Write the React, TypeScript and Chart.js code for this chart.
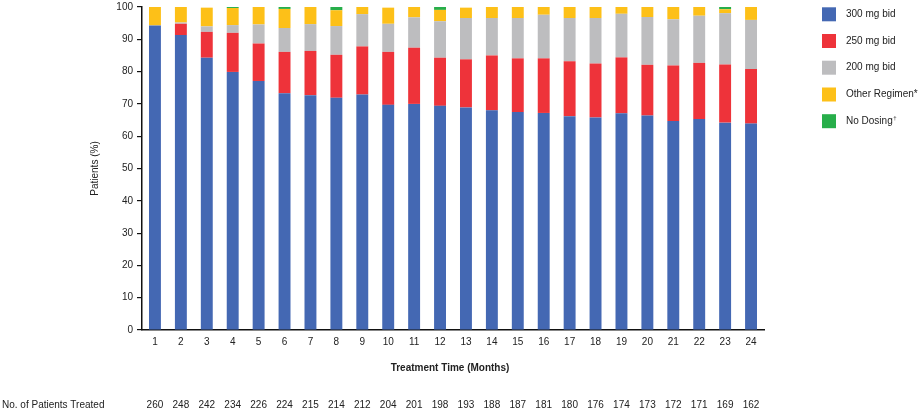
import React, { useEffect, useRef } from 'react';
import { Chart, registerables } from 'chart.js';

Chart.register(...registerables);

const months = ['1', '2', '3', '4', '5', '6', '7', '8', '9', '10', '11', '12', '13', '14', '15', '16', '17', '18', '19', '20', '21', '22', '23', '24'];
const patientsTreated = [260, 248, 242, 234, 226, 224, 215, 214, 212, 204, 201, 198, 193, 188, 187, 181, 180, 176, 174, 173, 172, 171, 169, 162];

const dose300 = [94.3, 91.3, 84.3, 79.9, 77.1, 73.3, 72.7, 71.9, 72.9, 69.7, 70.0, 69.4, 68.9, 68.0, 67.5, 67.2, 66.2, 65.8, 67.1, 66.4, 64.7, 65.3, 64.2, 63.9];
const dose250 = [0, 3.5, 8.0, 12.1, 11.6, 12.8, 13.7, 13.3, 14.9, 16.4, 17.4, 14.9, 14.9, 17.0, 16.6, 16.9, 17.0, 16.7, 17.3, 15.7, 17.2, 17.4, 18.0, 16.9];
const dose200 = [0, 0.4, 1.7, 2.4, 5.9, 7.4, 8.3, 8.9, 10.0, 8.7, 9.4, 11.3, 12.8, 11.6, 12.5, 13.5, 13.4, 14.1, 13.5, 14.8, 14.3, 14.6, 15.9, 15.2];
const otherRegimen = [5.7, 4.8, 5.8, 5.3, 5.4, 5.9, 5.3, 4.9, 2.2, 5.0, 3.2, 3.5, 3.2, 3.4, 3.4, 2.4, 3.4, 3.4, 2.1, 3.1, 3.8, 2.7, 1.2, 4.0];
const noDosing = [0, 0, 0, 0.3, 0, 0.6, 0, 1.0, 0, 0, 0, 0.9, 0, 0, 0, 0, 0, 0, 0, 0, 0, 0, 0.7, 0];

const seriesLabels = ['300 mg bid', '250 mg bid', '200 mg bid', 'Other Regimen*', 'No Dosing†'];
const seriesColors = ['#4468B3', '#EE333A', '#BDBDBF', '#FDC018', '#27AE4A'];
const yTicks = [0, 10, 20, 30, 40, 50, 60, 70, 80, 90, 100];

const yTitle = 'Patients (%)';
const xTitle = 'Treatment Time (Months)';
const rowTitle = 'No. of Patients Treated';

const FONT = '"Liberation Sans", Arial, sans-serif';
const TEXT = '#222';

const overlayPlugin = {
  id: 'overlay',
  afterDraw(chart: any) {
    const { ctx, chartArea, scales } = chart;
    const xs = scales.x;

    // Y title
    ctx.save();
    ctx.fillStyle = TEXT;
    ctx.font = `10px ${FONT}`;
    ctx.translate(95, (chartArea.top + chartArea.bottom) / 2);
    ctx.rotate(-Math.PI / 2);
    ctx.textAlign = 'center';
    ctx.textBaseline = 'middle';
    ctx.fillText(yTitle, 0, 0);
    ctx.restore();

    // X title
    ctx.save();
    ctx.fillStyle = TEXT;
    ctx.font = `bold 10px ${FONT}`;
    ctx.textAlign = 'center';
    ctx.textBaseline = 'middle';
    ctx.fillText(xTitle, 450, 368);

    // Patients row
    ctx.font = `10px ${FONT}`;
    ctx.textAlign = 'left';
    ctx.fillText(rowTitle, 2, 405);
    ctx.textAlign = 'center';
    patientsTreated.forEach((n, i) => {
      ctx.fillText(String(n), xs.getPixelForValue(i), 405);
    });

    // Legend
    const rowY = [14.3, 41, 67.7, 94.5, 121.2];
    chart.data.datasets.forEach((ds: any, i: number) => {
      const cy = rowY[i];
      ctx.fillStyle = ds.backgroundColor;
      ctx.fillRect(822, cy - 7, 14, 14);
      ctx.fillStyle = TEXT;
      ctx.font = `10px ${FONT}`;
      ctx.textAlign = 'left';
      ctx.textBaseline = 'middle';
      const label: string = ds.label;
      if (label.endsWith('†')) {
        const base = label.slice(0, -1);
        ctx.fillText(base, 846, cy);
        const w = ctx.measureText(base).width;
        ctx.font = `6px ${FONT}`;
        ctx.fillText('†', 846 + w + 0.5, cy - 3);
      } else {
        ctx.fillText(label, 846, cy);
      }
    });
    ctx.restore();
  },
};

export default function App() {
  const canvasRef = useRef<HTMLCanvasElement | null>(null);

  useEffect(() => {
    const canvas = canvasRef.current;
    if (!canvas) return;
    const seriesData = [dose300, dose250, dose200, otherRegimen, noDosing];
    const chart = new Chart(canvas, {
      type: 'bar',
      data: {
        labels: months,
        datasets: seriesData.map((d, i) => ({
          label: seriesLabels[i],
          data: d,
          backgroundColor: seriesColors[i],
          borderWidth: 0,
          barPercentage: 0.46,
          categoryPercentage: 1,
        })),
      },
      options: {
        animation: false,
        responsive: true,
        maintainAspectRatio: false,
        layout: { padding: { top: 7, right: 154, bottom: 0, left: 0 } },
        plugins: {
          legend: { display: false },
          tooltip: { enabled: false },
        },
        scales: {
          x: {
            stacked: true,
            grid: { display: false, drawTicks: false },
            border: { display: true, color: '#111', width: 1.5 },
            ticks: {
              color: TEXT,
              font: { family: FONT, size: 10 },
              padding: 6,
              maxRotation: 0,
              autoSkip: false,
            },
            afterFit: (s: any) => {
              s.height = 81;
              s.paddingLeft = 0;
              s.paddingRight = 0;
            },
          },
          y: {
            stacked: true,
            min: 0,
            max: 100,
            afterBuildTicks: (s: any) => {
              s.ticks = yTicks.map((v) => ({ value: v }));
            },
            grid: {
              drawOnChartArea: false,
              drawTicks: true,
              tickLength: 5,
              color: '#111',
              lineWidth: 1.2,
            },
            border: { display: true, color: '#111', width: 1.5 },
            ticks: {
              color: TEXT,
              font: { family: FONT, size: 10 },
              padding: 4,
            },
            afterFit: (s: any) => {
              s.width = 142;
              s.paddingTop = 0;
              s.paddingBottom = 0;
            },
          },
        },
      },
      plugins: [overlayPlugin],
    });
    return () => chart.destroy();
  }, []);

  return (
    <div style={{ position: 'fixed', left: 0, top: 0, width: 918, height: 411, background: '#fff' }}>
      <canvas ref={canvasRef} />
    </div>
  );
}
